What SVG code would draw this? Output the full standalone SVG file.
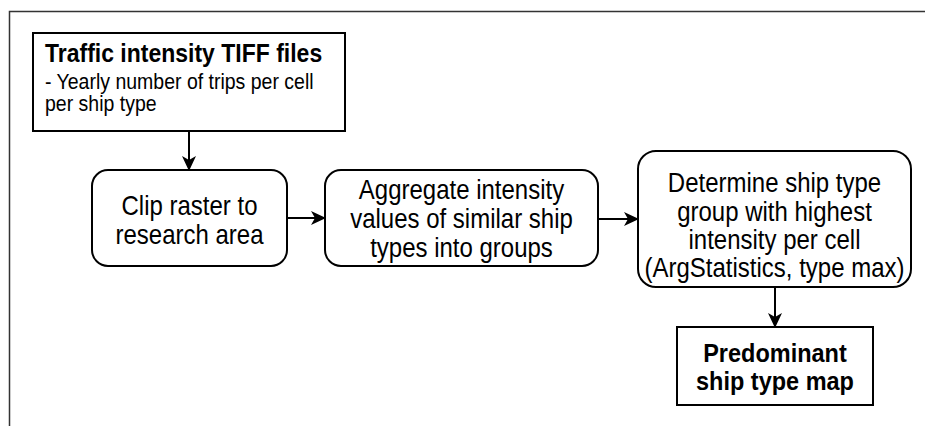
<svg xmlns="http://www.w3.org/2000/svg" width="925" height="426" viewBox="0 0 925 426">
<defs>
<style>
.box{fill:#fff;stroke:#000;stroke-width:2}
.t{font-family:"Liberation Sans",Arial,sans-serif;font-size:24px;fill:#000;text-anchor:middle}
.b{font-weight:bold}
.s{font-family:"Liberation Sans",Arial,sans-serif;font-size:19.5px;fill:#000}
.c{stroke:#000;stroke-width:2;fill:none;marker-end:url(#ah)}
</style>
<marker id="ah" markerUnits="userSpaceOnUse" markerWidth="16" markerHeight="14" refX="14" refY="7" orient="auto" viewBox="0 0 16 14">
<path d="M0,0 L15,7 L0,14 L4,7 Z" fill="#000"/>
</marker>
</defs>
<rect width="925" height="426" fill="#fff"/>
<path d="M925,11.5 H9.5 V426" fill="none" stroke="#333" stroke-width="1.5"/>
<g id="connectors">
<line class="c" x1="189" y1="131" x2="189" y2="170"/>
<line class="c" x1="287" y1="218" x2="325" y2="218"/>
<line class="c" x1="598" y1="219" x2="638" y2="219"/>
<line class="c" x1="775" y1="287" x2="775" y2="327"/>
</g>
<g id="input">
<rect class="box" x="33" y="33" width="312" height="98"/>
<text class="t b" x="45" y="0" transform="translate(0,61.5) scale(1,1.12)" style="text-anchor:start;font-size:23px">Traffic intensity TIFF files</text>
<text class="s" x="45" y="0" transform="translate(0,89) scale(1,1.12)">- Yearly number of trips per cell</text>
<text class="s" x="45" y="0" transform="translate(0,111) scale(1,1.12)">per ship type</text>
</g>
<g id="clip">
<rect class="box" x="92" y="170" width="195" height="96" rx="16"/>
<text class="t" x="189.5" y="0" transform="translate(0,215) scale(1,1.12)">Clip raster to</text>
<text class="t" x="189.5" y="0" transform="translate(0,244) scale(1,1.12)">research area</text>
</g>
<g id="aggregate">
<rect class="box" x="325" y="170" width="273" height="96" rx="16"/>
<text class="t" x="461.5" y="0" transform="translate(0,199) scale(1,1.12)">Aggregate intensity</text>
<text class="t" x="461.5" y="0" transform="translate(0,228) scale(1,1.12)">values of similar ship</text>
<text class="t" x="461.5" y="0" transform="translate(0,257) scale(1,1.12)">types into groups</text>
</g>
<g id="determine">
<rect class="box" x="638" y="151" width="273" height="136" rx="18"/>
<text class="t" x="774.5" y="0" transform="translate(0,192) scale(1,1.12)">Determine ship type</text>
<text class="t" x="774.5" y="0" transform="translate(0,220.5) scale(1,1.12)">group with highest</text>
<text class="t" x="774.5" y="0" transform="translate(0,249) scale(1,1.12)">intensity per cell</text>
<text class="t" x="774.5" y="0" transform="translate(0,277) scale(1,1.12)">(ArgStatistics, type max)</text>
</g>
<g id="result">
<rect class="box" x="677" y="327" width="196" height="78"/>
<text class="t b" x="775" y="0" transform="translate(0,362) scale(1,1.12)" style="font-size:23.5px">Predominant</text>
<text class="t b" x="775" y="0" transform="translate(0,390) scale(1,1.12)" style="font-size:23.5px">ship type map</text>
</g>
</svg>
